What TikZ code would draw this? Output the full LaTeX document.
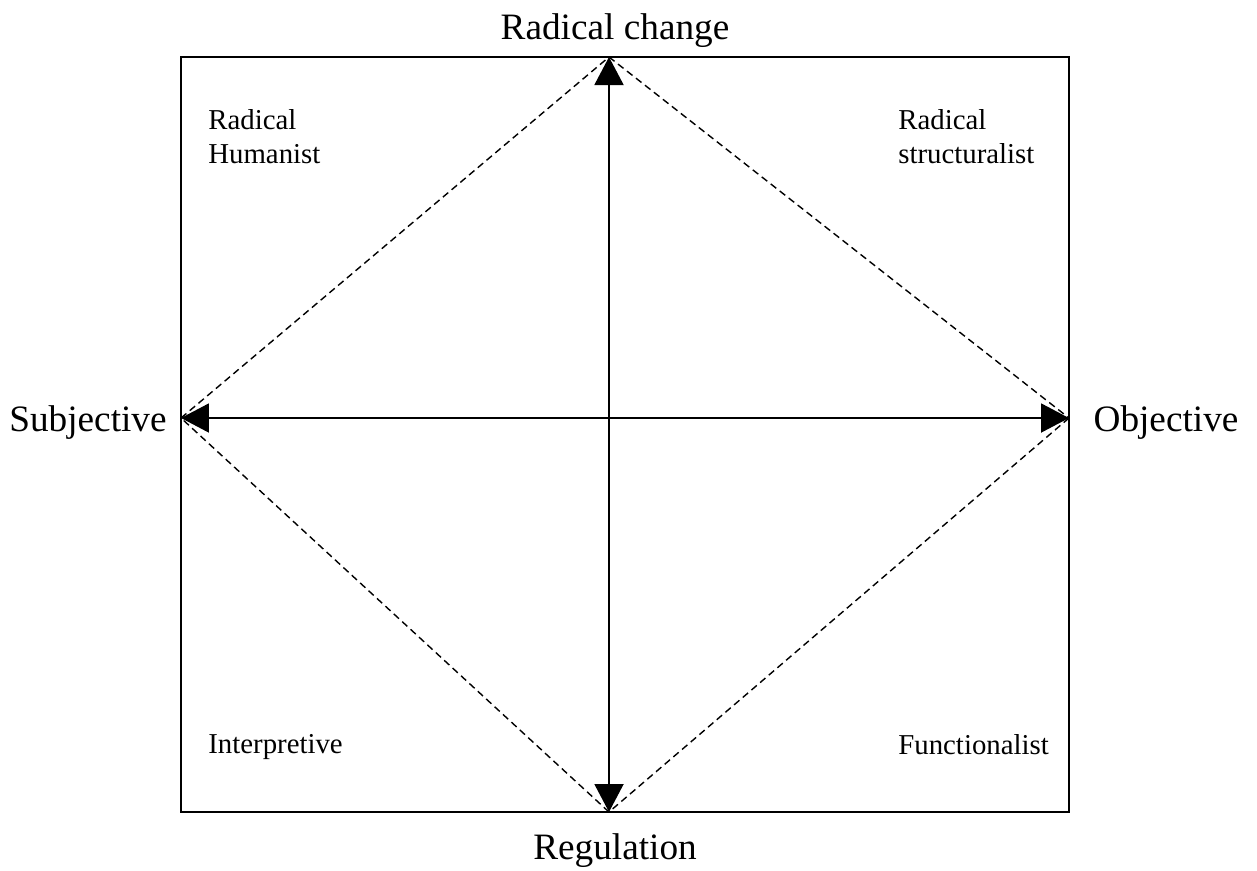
\documentclass[tikz,border=0pt]{standalone}
\usepackage{fontspec}
\setmainfont{Liberation Serif}
\usetikzlibrary{arrows.meta}
\tikzset{
  axislabel/.style={font=\fontsize{21.2}{25}\selectfont, inner sep=0pt},
  quadlabel/.style={font=\fontsize{16.4}{19.2}\selectfont, align=left, anchor=north west, inner sep=0pt},
  axis/.style={line width=1.1pt, -{Triangle[length=0.56cm, width=0.58cm]}},
  edge/.style={line width=0.8pt, dashed, dash pattern=on 4pt off 2.5pt}
}
\begin{document}
\begin{tikzpicture}[x=0.02cm, y=-0.02cm]
  \useasboundingbox (0,0) rectangle (1257,870);
  \coordinate (o) at (609,418);
  \coordinate (top) at (609,57);
  \coordinate (bottom) at (609,812);
  \coordinate (left) at (181,418);
  \coordinate (right) at (1069,418);
  \draw[line width=1.1pt] (181,57) rectangle (1069,812);
  \begin{scope}[edge]
    \draw (left) to (top);
    \draw (top) to (right);
    \draw (right) to (bottom);
    \draw (bottom) to (left);
  \end{scope}
  \begin{scope}[axis]
    \draw (o) to (top);
    \draw (o) to (bottom);
    \draw (o) to (left);
    \draw (o) to (right);
  \end{scope}
  \node[axislabel] (change) at (615,31) {Radical change};
  \node[axislabel] (regulation) at (615,851) {Regulation};
  \node[axislabel] (subjective) at (88,423) {Subjective};
  \node[axislabel] (objective) at (1166,423) {Objective};
  \node[quadlabel] (humanist) at (208,109) {Radical\\Humanist};
  \node[quadlabel] (structuralist) at (898,109) {Radical\\structuralist};
  \node[quadlabel] (interpretive) at (208,734) {Interpretive};
  \node[quadlabel] (functionalist) at (898,734) {Functionalist};
\end{tikzpicture}
\end{document}
